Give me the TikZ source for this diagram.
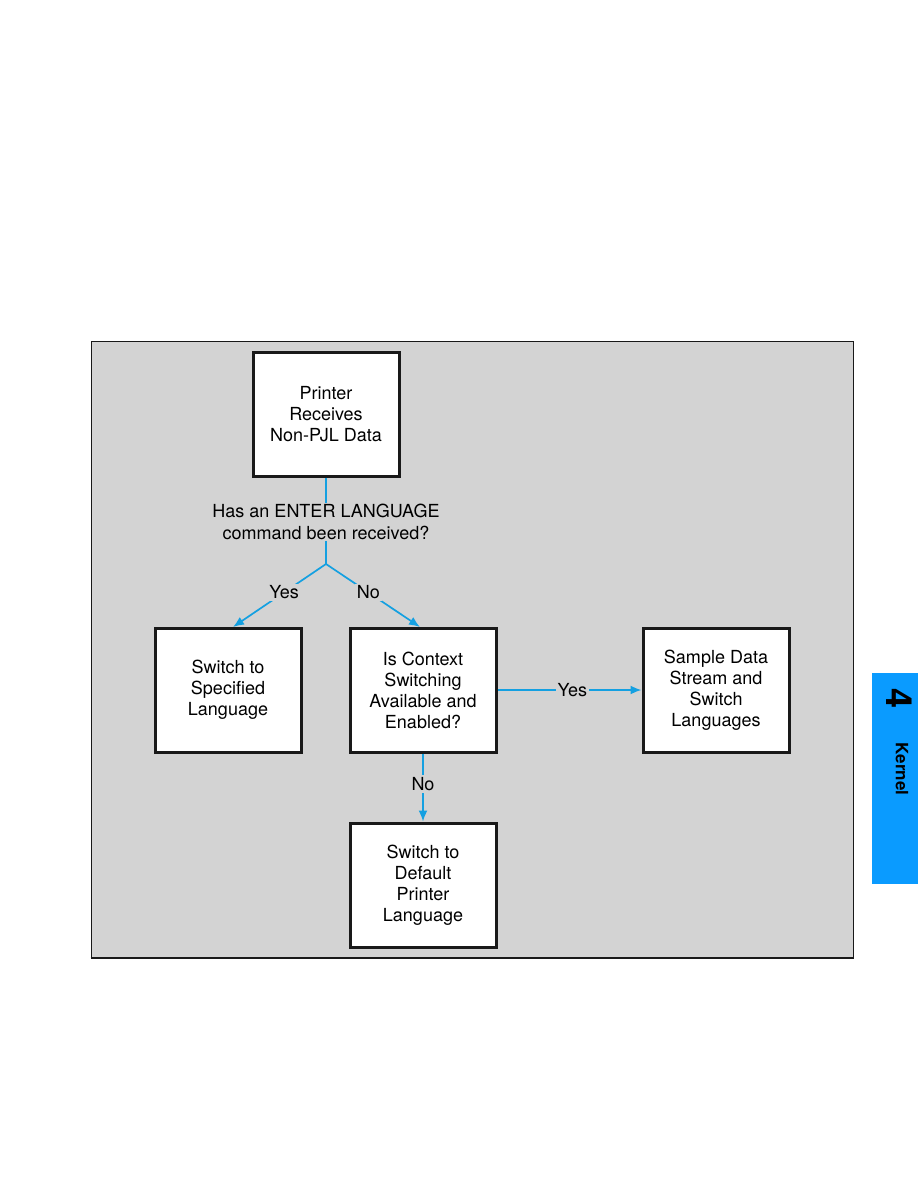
\documentclass[tikz,border=0pt]{standalone}
\usepackage{fontspec}
\setmainfont{TeX Gyre Heros}
\usetikzlibrary{arrows.meta}
\definecolor{panel}{RGB}{211,211,211}
\definecolor{conncol}{RGB}{20,160,225}
\definecolor{tabblue}{RGB}{10,155,255}
\begin{document}
\begin{tikzpicture}[x=1pt,y=-1pt,
  box/.style={draw=black!90,line width=3pt,fill=white,minimum width=146pt,minimum height=124pt,
    align=center,font=\fontsize{18}{21}\selectfont,inner sep=0pt},
  lbl/.style={fill=panel,inner sep=2pt,font=\fontsize{18}{21.5}\selectfont,align=center},
  conn/.style={draw=conncol,line width=1.7pt},
  arr/.style={conn,-{Latex[length=11pt,width=9pt]}}]
\useasboundingbox (0,0) rectangle (918,1188);
% panel
\fill[panel] (91,341) rectangle (853,958);
\draw[line width=1pt,black!90] (91,958) -- (91,341) -- (853,341) -- (853,958);
\draw[line width=2.2pt,black!90] (90.5,958) -- (853.5,958);
% boxes
\node[box] (top) at (326,414) {Printer\\Receives\\Non-PJL Data};
\node[box] (spec) at (228,690) {Switch to\\Specified\\Language};
\node[box] (ctx) at (423,690) {Is Context\\Switching\\Available and\\Enabled?};
\node[box] (samp) at (716,690) {Sample Data\\Stream and\\Switch\\Languages};
\node[box] (def) at (423,885) {Switch to\\Default\\Printer\\Language};
% question
\node[lbl,inner sep=1pt] (q) at (326,522) {Has an ENTER LANGUAGE\\command been received?};
\coordinate (j) at (326,564);
\coordinate (yesend) at (233,627);
\coordinate (noend) at (420,627);
\draw[conn] (top.south) -- (q.north);
\draw[conn] (q.south) -- (j);
\draw[arr] (j) -- node[lbl,pos=0.45] {Yes} (yesend);
\draw[arr] (j) -- node[lbl,pos=0.45] {No} (noend);
\draw[arr] (ctx.east) -- node[lbl,pos=0.52] {Yes} (samp.west);
\draw[arr] (ctx.south) -- node[lbl,pos=0.45] {No} (def.north);
% tab
\fill[tabblue] (872,673) rectangle (918,884);
\node[rotate=-90,font=\fontsize{36}{36}\bfseries\selectfont,inner sep=0pt] (num) at (899,698) {4};
\node[rotate=-90,font=\fontsize{17}{17}\bfseries\selectfont,inner sep=0pt] (kern) at (902,769) {Kernel};
\end{tikzpicture}
\end{document}
